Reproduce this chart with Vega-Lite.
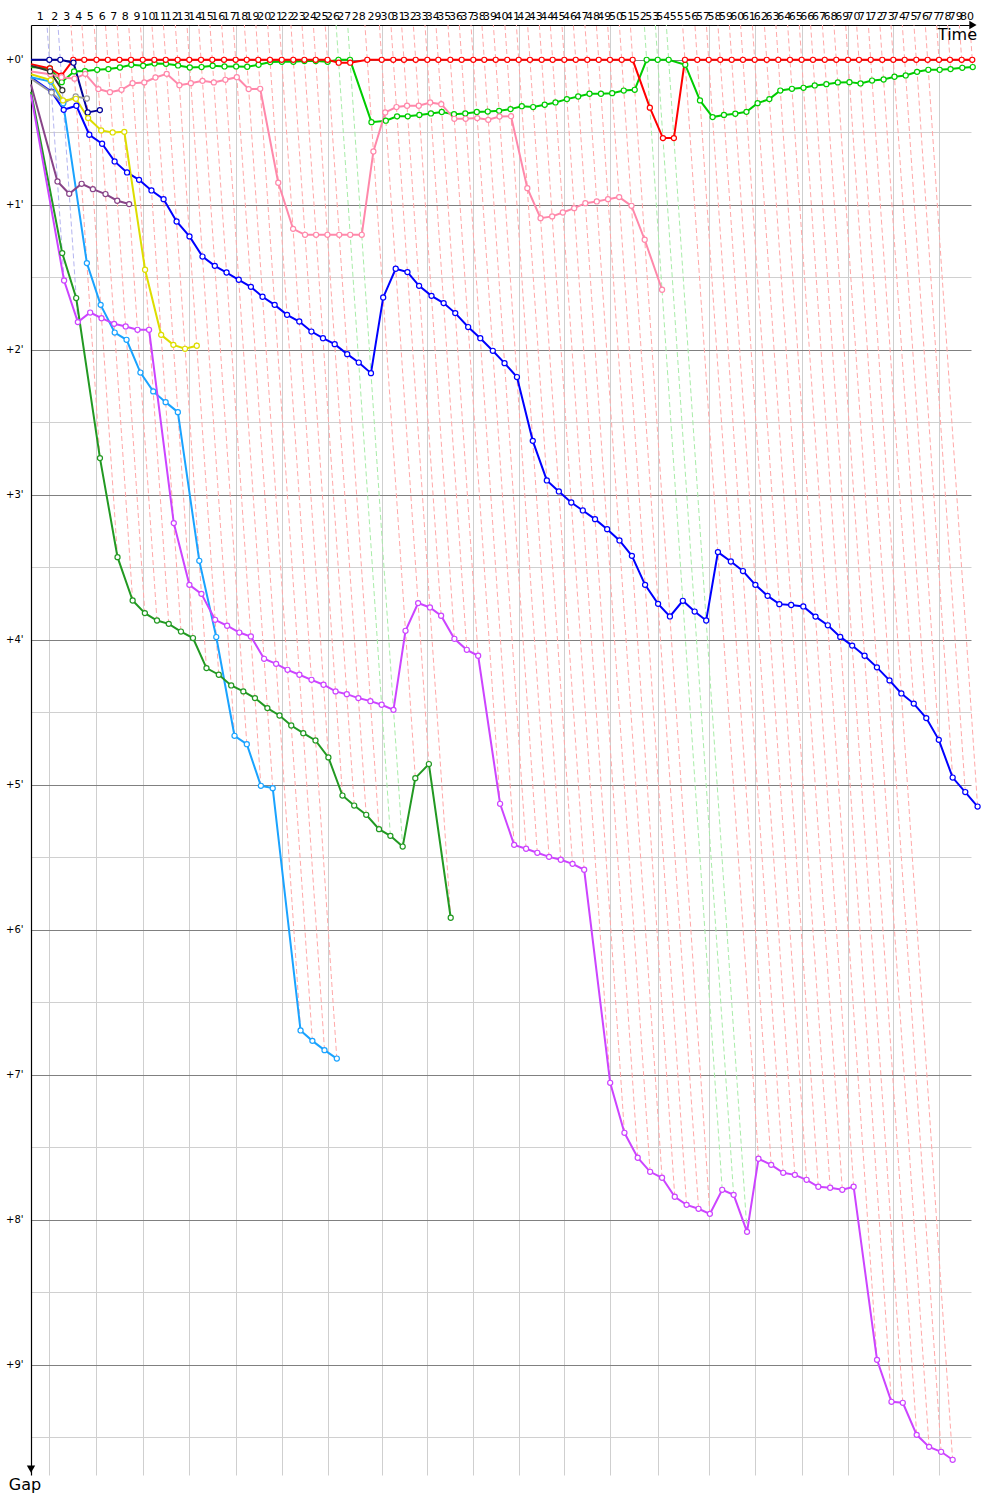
{
"$schema": "https://vega.github.io/schema/vega-lite/v6.json",
"width": 940, "height": 1450,
"autosize": {"type": "none"},
"padding": {"left": 31, "top": 25, "right": 29, "bottom": 25},
"background": "white",
"config": {"view": {"stroke": null}, "font": "DejaVu Sans"},
"datasets": {
"laps": [
{"lap":1,"t":1.89,"tm":0.95,"lead":"navy","xs":1.65,"xe":3.41,"G":1.52},
{"lap":2,"t":3.02,"tm":2.46,"lead":"navy","xs":2.78,"xe":4.83,"G":1.81},
{"lap":3,"t":4.36,"tm":3.69,"lead":"red","xs":4.12,"xe":7.11,"G":2.75},
{"lap":4,"t":5.49,"tm":4.93,"lead":"red","xs":5.25,"xe":8.92,"G":3.43},
{"lap":5,"t":6.75,"tm":6.12,"lead":"red","xs":6.51,"xe":10.48,"G":3.73},
{"lap":6,"t":7.92,"tm":7.34,"lead":"red","xs":7.68,"xe":11.74,"G":3.82},
{"lap":7,"t":9.12,"tm":8.52,"lead":"red","xs":8.88,"xe":12.99,"G":3.87},
{"lap":8,"t":10.31,"tm":9.72,"lead":"red","xs":10.07,"xe":14.2,"G":3.89},
{"lap":9,"t":11.52,"tm":10.92,"lead":"red","xs":11.28,"xe":15.46,"G":3.94},
{"lap":10,"t":12.71,"tm":12.12,"lead":"red","xs":12.47,"xe":16.7,"G":3.99},
{"lap":11,"t":13.89,"tm":13.3,"lead":"red","xs":13.65,"xe":18.09,"G":4.2},
{"lap":12,"t":15.12,"tm":14.51,"lead":"red","xs":14.88,"xe":19.36,"G":4.24},
{"lap":13,"t":16.32,"tm":15.72,"lead":"red","xs":16.08,"xe":20.98,"G":4.66},
{"lap":14,"t":17.53,"tm":16.93,"lead":"red","xs":17.29,"xe":22.25,"G":4.72},
{"lap":15,"t":18.69,"tm":18.11,"lead":"red","xs":18.45,"xe":23.7,"G":5.01},
{"lap":16,"t":19.9,"tm":19.3,"lead":"red","xs":19.66,"xe":24.92,"G":5.02},
{"lap":17,"t":21.1,"tm":20.5,"lead":"red","xs":20.86,"xe":27.79,"G":6.69},
{"lap":18,"t":22.24,"tm":21.67,"lead":"red","xs":22.0,"xe":29.01,"G":6.77},
{"lap":19,"t":23.43,"tm":22.84,"lead":"red","xs":23.19,"xe":30.26,"G":6.83},
{"lap":20,"t":24.64,"tm":24.04,"lead":"red","xs":24.4,"xe":31.53,"G":6.89},
{"lap":21,"t":25.85,"tm":25.25,"lead":"red","xs":25.61,"xe":30.66,"G":4.81},
{"lap":22,"t":27.04,"tm":26.45,"lead":"red","xs":26.8,"xe":32.11,"G":5.07},
{"lap":23,"t":28.18,"tm":27.61,"lead":"red","xs":27.94,"xe":33.32,"G":5.14},
{"lap":24,"t":29.35,"tm":28.77,"lead":"red","xs":29.11,"xe":34.56,"G":5.21},
{"lap":25,"t":30.57,"tm":29.96,"lead":"red","xs":30.33,"xe":35.88,"G":5.31},
{"lap":26,"t":31.7,"tm":31.14,"lead":"green","xs":31.46,"xe":37.05,"G":5.35},
{"lap":27,"t":32.89,"tm":32.3,"lead":"green","xs":32.65,"xe":38.32,"G":5.43},
{"lap":28,"t":34.67,"tm":33.78,"lead":"red","xs":34.43,"xe":39.62,"G":4.95},
{"lap":29,"t":36.16,"tm":35.42,"lead":"red","xs":35.92,"xe":41.02,"G":4.86},
{"lap":30,"t":37.35,"tm":36.76,"lead":"red","xs":37.11,"xe":43.27,"G":5.92},
{"lap":31,"t":38.45,"tm":37.9,"lead":"red","xs":38.21,"xe":42.28,"G":3.83},
{"lap":32,"t":39.66,"tm":39.06,"lead":"red","xs":39.42,"xe":43.65,"G":3.99},
{"lap":33,"t":40.86,"tm":40.26,"lead":"red","xs":40.62,"xe":44.93,"G":4.07},
{"lap":34,"t":41.99,"tm":41.43,"lead":"red","xs":41.75,"xe":46.1,"G":4.11},
{"lap":35,"t":43.23,"tm":42.61,"lead":"red","xs":42.99,"xe":48.36,"G":5.13},
{"lap":36,"t":44.4,"tm":43.82,"lead":"red","xs":44.16,"xe":49.81,"G":5.41},
{"lap":37,"t":45.6,"tm":45.0,"lead":"red","xs":45.36,"xe":51.04,"G":5.44},
{"lap":38,"t":46.73,"tm":46.17,"lead":"red","xs":46.49,"xe":52.2,"G":5.47},
{"lap":39,"t":47.91,"tm":47.32,"lead":"red","xs":47.67,"xe":53.41,"G":5.5},
{"lap":40,"t":49.1,"tm":48.51,"lead":"red","xs":48.86,"xe":54.62,"G":5.52},
{"lap":41,"t":50.28,"tm":49.69,"lead":"red","xs":50.04,"xe":55.83,"G":5.55},
{"lap":42,"t":51.44,"tm":50.86,"lead":"red","xs":51.2,"xe":57.03,"G":5.59},
{"lap":43,"t":52.65,"tm":52.05,"lead":"red","xs":52.41,"xe":59.71,"G":7.06},
{"lap":44,"t":53.78,"tm":53.22,"lead":"red","xs":53.54,"xe":61.18,"G":7.4},
{"lap":45,"t":54.98,"tm":54.38,"lead":"red","xs":54.74,"xe":62.55,"G":7.57},
{"lap":46,"t":56.16,"tm":55.57,"lead":"red","xs":55.92,"xe":63.83,"G":7.67},
{"lap":47,"t":57.35,"tm":56.76,"lead":"red","xs":57.11,"xe":65.06,"G":7.71},
{"lap":48,"t":58.53,"tm":57.94,"lead":"red","xs":58.29,"xe":66.37,"G":7.84},
{"lap":49,"t":59.69,"tm":59.11,"lead":"red","xs":59.45,"xe":67.59,"G":7.9},
{"lap":50,"t":60.9,"tm":60.3,"lead":"red","xs":60.66,"xe":68.82,"G":7.92},
{"lap":51,"t":62.03,"tm":61.47,"lead":"red","xs":61.79,"xe":69.99,"G":7.96},
{"lap":52,"t":63.47,"tm":62.75,"lead":"green","xs":63.23,"xe":71.26,"G":7.79},
{"lap":53,"t":64.61,"tm":64.04,"lead":"green","xs":64.37,"xe":72.44,"G":7.83},
{"lap":54,"t":65.74,"tm":65.18,"lead":"green","xs":65.5,"xe":73.82,"G":8.08},
{"lap":55,"t":67.42,"tm":66.58,"lead":"red","xs":67.18,"xe":75.0,"G":7.58},
{"lap":56,"t":68.69,"tm":68.06,"lead":"red","xs":68.45,"xe":76.31,"G":7.62},
{"lap":57,"t":69.87,"tm":69.28,"lead":"red","xs":69.63,"xe":77.55,"G":7.68},
{"lap":58,"t":71.06,"tm":70.47,"lead":"red","xs":70.82,"xe":78.75,"G":7.69},
{"lap":59,"t":72.24,"tm":71.65,"lead":"red","xs":72.0,"xe":79.96,"G":7.72},
{"lap":60,"t":73.4,"tm":72.82,"lead":"red","xs":73.16,"xe":81.17,"G":7.77},
{"lap":61,"t":74.61,"tm":74.01,"lead":"red","xs":74.37,"xe":82.39,"G":7.78},
{"lap":62,"t":75.85,"tm":75.23,"lead":"red","xs":75.61,"xe":83.64,"G":7.79},
{"lap":63,"t":77.04,"tm":76.45,"lead":"red","xs":76.8,"xe":84.81,"G":7.77},
{"lap":64,"t":78.25,"tm":77.65,"lead":"red","xs":78.01,"xe":87.22,"G":8.97},
{"lap":65,"t":79.45,"tm":78.85,"lead":"red","xs":79.21,"xe":88.71,"G":9.26},
{"lap":66,"t":80.62,"tm":80.04,"lead":"red","xs":80.38,"xe":89.88,"G":9.26},
{"lap":67,"t":81.83,"tm":81.23,"lead":"red","xs":81.59,"xe":91.31,"G":9.48},
{"lap":68,"t":83.02,"tm":82.43,"lead":"red","xs":82.78,"xe":92.59,"G":9.57},
{"lap":69,"t":84.23,"tm":83.63,"lead":"red","xs":83.99,"xe":93.83,"G":9.6},
{"lap":70,"t":85.36,"tm":84.8,"lead":"red","xs":85.12,"xe":95.02,"G":9.66},
{"lap":71,"t":86.57,"tm":85.97,"lead":"red","xs":86.33,"xe":91.01,"G":4.44},
{"lap":72,"t":87.76,"tm":87.17,"lead":"red","xs":87.52,"xe":92.3,"G":4.54},
{"lap":73,"t":88.9,"tm":88.33,"lead":"red","xs":88.66,"xe":93.59,"G":4.69},
{"lap":74,"t":90.07,"tm":89.49,"lead":"red","xs":89.83,"xe":95.02,"G":4.95},
{"lap":75,"t":91.27,"tm":90.67,"lead":"red","xs":91.03,"xe":96.32,"G":5.05},
{"lap":76,"t":92.44,"tm":91.86,"lead":"red","xs":92.2,"xe":97.59,"G":5.15},
{"lap":77,"t":93.61,"tm":93.03,"lead":"red","xs":93.37,"xe":93.68,"G":0.07},
{"lap":78,"t":94.74,"tm":94.18,"lead":"red","xs":94.5,"xe":94.8,"G":0.06},
{"lap":79,"t":95.95,"tm":95.35,"lead":"red","xs":95.71,"xe":96.01,"G":0.06},
{"lap":80,"t":97.04,"tm":96.5,"lead":"red","xs":96.8,"xe":97.09,"G":0.05}
],
"cars": [
{"c":"green","n":0,"t":0,"g":0.05},{"c":"green","n":1,"t":1.95,"g":0.06},{"c":"green","n":2,"t":3.17,"g":0.154},{"c":"green","n":3,"t":4.44,"g":0.08},{"c":"green","n":4,"t":5.57,"g":0.078},{"c":"green","n":5,"t":6.82,"g":0.069},{"c":"green","n":6,"t":7.98,"g":0.064},{"c":"green","n":7,"t":9.17,"g":0.053},{"c":"green","n":8,"t":10.34,"g":0.034},{"c":"green","n":9,"t":11.56,"g":0.041},{"c":"green","n":10,"t":12.74,"g":0.025},{"c":"green","n":11,"t":13.92,"g":0.028},{"c":"green","n":12,"t":15.16,"g":0.039},{"c":"green","n":13,"t":16.37,"g":0.053},{"c":"green","n":14,"t":17.58,"g":0.05},{"c":"green","n":15,"t":18.73,"g":0.041},{"c":"green","n":16,"t":19.95,"g":0.046},{"c":"green","n":17,"t":21.15,"g":0.046},{"c":"green","n":18,"t":22.29,"g":0.048},{"c":"green","n":19,"t":23.46,"g":0.034},{"c":"green","n":20,"t":24.66,"g":0.016},{"c":"green","n":21,"t":25.86,"g":0.014},{"c":"green","n":22,"t":27.05,"g":0.014},{"c":"green","n":23,"t":28.19,"g":0.009},{"c":"green","n":24,"t":29.36,"g":0.009},{"c":"green","n":25,"t":30.58,"g":0.014},{"c":"green","n":26,"t":31.7,"g":0},{"c":"green","n":27,"t":32.89,"g":0},{"c":"green","n":28,"t":35.1,"g":0.43},{"c":"green","n":29,"t":36.58,"g":0.42},{"c":"green","n":30,"t":37.74,"g":0.39},{"c":"green","n":31,"t":38.84,"g":0.39},{"c":"green","n":32,"t":40.04,"g":0.38},{"c":"green","n":33,"t":41.23,"g":0.37},{"c":"green","n":34,"t":42.35,"g":0.36},{"c":"green","n":35,"t":43.61,"g":0.375},{"c":"green","n":36,"t":44.77,"g":0.37},{"c":"green","n":37,"t":45.96,"g":0.36},{"c":"green","n":38,"t":47.09,"g":0.357},{"c":"green","n":39,"t":48.26,"g":0.352},{"c":"green","n":40,"t":49.44,"g":0.34},{"c":"green","n":41,"t":50.6,"g":0.32},{"c":"green","n":42,"t":51.77,"g":0.326},{"c":"green","n":43,"t":52.96,"g":0.31},{"c":"green","n":44,"t":54.07,"g":0.294},{"c":"green","n":45,"t":55.25,"g":0.271},{"c":"green","n":46,"t":56.41,"g":0.253},{"c":"green","n":47,"t":57.58,"g":0.234},{"c":"green","n":48,"t":58.76,"g":0.234},{"c":"green","n":49,"t":59.92,"g":0.23},{"c":"green","n":50,"t":61.11,"g":0.212},{"c":"green","n":51,"t":62.24,"g":0.207},{"c":"green","n":52,"t":63.47,"g":0},{"c":"green","n":53,"t":64.61,"g":0},{"c":"green","n":54,"t":65.74,"g":0},{"c":"green","n":55,"t":67.45,"g":0.034},{"c":"green","n":56,"t":68.97,"g":0.28},{"c":"green","n":57,"t":70.27,"g":0.395},{"c":"green","n":58,"t":71.44,"g":0.38},{"c":"green","n":59,"t":72.61,"g":0.372},{"c":"green","n":60,"t":73.76,"g":0.359},{"c":"green","n":61,"t":74.91,"g":0.299},{"c":"green","n":62,"t":76.12,"g":0.271},{"c":"green","n":63,"t":77.25,"g":0.212},{"c":"green","n":64,"t":78.45,"g":0.2},{"c":"green","n":65,"t":79.64,"g":0.193},{"c":"green","n":66,"t":80.8,"g":0.177},{"c":"green","n":67,"t":82.0,"g":0.168},{"c":"green","n":68,"t":83.18,"g":0.156},{"c":"green","n":69,"t":84.38,"g":0.154},{"c":"green","n":70,"t":85.52,"g":0.163},{"c":"green","n":71,"t":86.71,"g":0.143},{"c":"green","n":72,"t":87.9,"g":0.136},{"c":"green","n":73,"t":89.02,"g":0.117},{"c":"green","n":74,"t":90.18,"g":0.108},{"c":"green","n":75,"t":91.35,"g":0.083},{"c":"green","n":76,"t":92.51,"g":0.069},{"c":"green","n":77,"t":93.68,"g":0.069},{"c":"green","n":78,"t":94.8,"g":0.064},{"c":"green","n":79,"t":96.01,"g":0.055},{"c":"green","n":80,"t":97.09,"g":0.05},
{"c":"red","n":0,"t":0,"g":0.03},{"c":"red","n":1,"t":1.95,"g":0.06},{"c":"red","n":2,"t":3.13,"g":0.11},{"c":"red","n":3,"t":4.36,"g":0},{"c":"red","n":4,"t":5.49,"g":0},{"c":"red","n":5,"t":6.75,"g":0},{"c":"red","n":6,"t":7.92,"g":0},{"c":"red","n":7,"t":9.12,"g":0},{"c":"red","n":8,"t":10.31,"g":0},{"c":"red","n":9,"t":11.52,"g":0},{"c":"red","n":10,"t":12.71,"g":0},{"c":"red","n":11,"t":13.89,"g":0},{"c":"red","n":12,"t":15.12,"g":0},{"c":"red","n":13,"t":16.32,"g":0},{"c":"red","n":14,"t":17.53,"g":0},{"c":"red","n":15,"t":18.69,"g":0},{"c":"red","n":16,"t":19.9,"g":0},{"c":"red","n":17,"t":21.1,"g":0},{"c":"red","n":18,"t":22.24,"g":0},{"c":"red","n":19,"t":23.43,"g":0},{"c":"red","n":20,"t":24.64,"g":0},{"c":"red","n":21,"t":25.85,"g":0},{"c":"red","n":22,"t":27.04,"g":0},{"c":"red","n":23,"t":28.18,"g":0},{"c":"red","n":24,"t":29.35,"g":0},{"c":"red","n":25,"t":30.57,"g":0},{"c":"red","n":26,"t":31.72,"g":0.02},{"c":"red","n":27,"t":32.91,"g":0.02},{"c":"red","n":28,"t":34.67,"g":0},{"c":"red","n":29,"t":36.16,"g":0},{"c":"red","n":30,"t":37.35,"g":0},{"c":"red","n":31,"t":38.45,"g":0},{"c":"red","n":32,"t":39.66,"g":0},{"c":"red","n":33,"t":40.86,"g":0},{"c":"red","n":34,"t":41.99,"g":0},{"c":"red","n":35,"t":43.23,"g":0},{"c":"red","n":36,"t":44.4,"g":0},{"c":"red","n":37,"t":45.6,"g":0},{"c":"red","n":38,"t":46.73,"g":0},{"c":"red","n":39,"t":47.91,"g":0},{"c":"red","n":40,"t":49.1,"g":0},{"c":"red","n":41,"t":50.28,"g":0},{"c":"red","n":42,"t":51.44,"g":0},{"c":"red","n":43,"t":52.65,"g":0},{"c":"red","n":44,"t":53.78,"g":0},{"c":"red","n":45,"t":54.98,"g":0},{"c":"red","n":46,"t":56.16,"g":0},{"c":"red","n":47,"t":57.35,"g":0},{"c":"red","n":48,"t":58.53,"g":0},{"c":"red","n":49,"t":59.69,"g":0},{"c":"red","n":50,"t":60.9,"g":0},{"c":"red","n":51,"t":62.03,"g":0},{"c":"red","n":52,"t":63.8,"g":0.33},{"c":"red","n":53,"t":65.15,"g":0.54},{"c":"red","n":54,"t":66.28,"g":0.54},{"c":"red","n":55,"t":67.42,"g":0},{"c":"red","n":56,"t":68.69,"g":0},{"c":"red","n":57,"t":69.87,"g":0},{"c":"red","n":58,"t":71.06,"g":0},{"c":"red","n":59,"t":72.24,"g":0},{"c":"red","n":60,"t":73.4,"g":0},{"c":"red","n":61,"t":74.61,"g":0},{"c":"red","n":62,"t":75.85,"g":0},{"c":"red","n":63,"t":77.04,"g":0},{"c":"red","n":64,"t":78.25,"g":0},{"c":"red","n":65,"t":79.45,"g":0},{"c":"red","n":66,"t":80.62,"g":0},{"c":"red","n":67,"t":81.83,"g":0},{"c":"red","n":68,"t":83.02,"g":0},{"c":"red","n":69,"t":84.23,"g":0},{"c":"red","n":70,"t":85.36,"g":0},{"c":"red","n":71,"t":86.57,"g":0},{"c":"red","n":72,"t":87.76,"g":0},{"c":"red","n":73,"t":88.9,"g":0},{"c":"red","n":74,"t":90.07,"g":0},{"c":"red","n":75,"t":91.27,"g":0},{"c":"red","n":76,"t":92.44,"g":0},{"c":"red","n":77,"t":93.61,"g":0},{"c":"red","n":78,"t":94.74,"g":0},{"c":"red","n":79,"t":95.95,"g":0},{"c":"red","n":80,"t":97.04,"g":0},
{"c":"pink","n":0,"t":0,"g":0.08},{"c":"pink","n":1,"t":1.99,"g":0.1},{"c":"pink","n":2,"t":3.14,"g":0.12},{"c":"pink","n":3,"t":4.49,"g":0.13},{"c":"pink","n":4,"t":5.59,"g":0.097},{"c":"pink","n":5,"t":6.95,"g":0.202},{"c":"pink","n":6,"t":8.14,"g":0.223},{"c":"pink","n":7,"t":9.33,"g":0.207},{"c":"pink","n":8,"t":10.47,"g":0.161},{"c":"pink","n":9,"t":11.68,"g":0.156},{"c":"pink","n":10,"t":12.83,"g":0.122},{"c":"pink","n":11,"t":13.99,"g":0.097},{"c":"pink","n":12,"t":15.3,"g":0.175},{"c":"pink","n":13,"t":16.48,"g":0.161},{"c":"pink","n":14,"t":17.68,"g":0.145},{"c":"pink","n":15,"t":18.85,"g":0.156},{"c":"pink","n":16,"t":20.04,"g":0.138},{"c":"pink","n":17,"t":21.22,"g":0.12},{"c":"pink","n":18,"t":22.44,"g":0.202},{"c":"pink","n":19,"t":23.63,"g":0.2},{"c":"pink","n":20,"t":25.49,"g":0.848},{"c":"pink","n":21,"t":27.02,"g":1.166},{"c":"pink","n":22,"t":28.25,"g":1.207},{"c":"pink","n":23,"t":29.39,"g":1.207},{"c":"pink","n":24,"t":30.56,"g":1.207},{"c":"pink","n":25,"t":31.78,"g":1.207},{"c":"pink","n":26,"t":32.91,"g":1.207},{"c":"pink","n":27,"t":34.1,"g":1.207},{"c":"pink","n":28,"t":35.3,"g":0.632},{"c":"pink","n":29,"t":36.52,"g":0.363},{"c":"pink","n":30,"t":37.68,"g":0.326},{"c":"pink","n":31,"t":38.77,"g":0.317},{"c":"pink","n":32,"t":39.98,"g":0.317},{"c":"pink","n":33,"t":41.15,"g":0.294},{"c":"pink","n":34,"t":42.3,"g":0.306},{"c":"pink","n":35,"t":43.64,"g":0.407},{"c":"pink","n":36,"t":44.81,"g":0.407},{"c":"pink","n":37,"t":46.0,"g":0.402},{"c":"pink","n":38,"t":47.14,"g":0.414},{"c":"pink","n":39,"t":48.3,"g":0.391},{"c":"pink","n":40,"t":49.49,"g":0.389},{"c":"pink","n":41,"t":51.17,"g":0.885},{"c":"pink","n":42,"t":52.53,"g":1.092},{"c":"pink","n":43,"t":53.73,"g":1.08},{"c":"pink","n":44,"t":54.83,"g":1.053},{"c":"pink","n":45,"t":56.0,"g":1.023},{"c":"pink","n":46,"t":57.15,"g":0.989},{"c":"pink","n":47,"t":58.33,"g":0.977},{"c":"pink","n":48,"t":59.49,"g":0.961},{"c":"pink","n":49,"t":60.64,"g":0.947},{"c":"pink","n":50,"t":61.91,"g":1.007},{"c":"pink","n":51,"t":63.27,"g":1.241},{"c":"pink","n":52,"t":65.06,"g":1.586},
{"c":"blue","n":0,"t":0,"g":0.12},{"c":"blue","n":1,"t":2.11,"g":0.22},{"c":"blue","n":2,"t":3.37,"g":0.345},{"c":"blue","n":3,"t":4.68,"g":0.317},{"c":"blue","n":4,"t":6.01,"g":0.517},{"c":"blue","n":5,"t":7.33,"g":0.579},{"c":"blue","n":6,"t":8.62,"g":0.701},{"c":"blue","n":7,"t":9.9,"g":0.777},{"c":"blue","n":8,"t":11.14,"g":0.828},{"c":"blue","n":9,"t":12.42,"g":0.901},{"c":"blue","n":10,"t":13.67,"g":0.961},{"c":"blue","n":11,"t":15.01,"g":1.115},{"c":"blue","n":12,"t":16.34,"g":1.218},{"c":"blue","n":13,"t":17.68,"g":1.357},{"c":"blue","n":14,"t":18.95,"g":1.421},{"c":"blue","n":15,"t":20.16,"g":1.467},{"c":"blue","n":16,"t":21.42,"g":1.517},{"c":"blue","n":17,"t":22.67,"g":1.566},{"c":"blue","n":18,"t":23.87,"g":1.634},{"c":"blue","n":19,"t":25.12,"g":1.69},{"c":"blue","n":20,"t":26.4,"g":1.759},{"c":"blue","n":21,"t":27.66,"g":1.805},{"c":"blue","n":22,"t":28.91,"g":1.874},{"c":"blue","n":23,"t":30.1,"g":1.92},{"c":"blue","n":24,"t":31.31,"g":1.961},{"c":"blue","n":25,"t":32.6,"g":2.03},{"c":"blue","n":26,"t":33.79,"g":2.088},{"c":"blue","n":27,"t":35.05,"g":2.161},{"c":"blue","n":28,"t":36.31,"g":1.639},{"c":"blue","n":29,"t":37.6,"g":1.441},{"c":"blue","n":30,"t":38.81,"g":1.464},{"c":"blue","n":31,"t":40.01,"g":1.559},{"c":"blue","n":32,"t":41.29,"g":1.628},{"c":"blue","n":33,"t":42.54,"g":1.678},{"c":"blue","n":34,"t":43.74,"g":1.747},{"c":"blue","n":35,"t":45.07,"g":1.843},{"c":"blue","n":36,"t":46.32,"g":1.92},{"c":"blue","n":37,"t":47.61,"g":2.007},{"c":"blue","n":38,"t":48.82,"g":2.092},{"c":"blue","n":39,"t":50.1,"g":2.188},{"c":"blue","n":40,"t":51.73,"g":2.628},{"c":"blue","n":41,"t":53.18,"g":2.901},{"c":"blue","n":42,"t":54.42,"g":2.977},{"c":"blue","n":43,"t":55.7,"g":3.053},{"c":"blue","n":44,"t":56.89,"g":3.108},{"c":"blue","n":45,"t":58.15,"g":3.168},{"c":"blue","n":46,"t":59.4,"g":3.237},{"c":"blue","n":47,"t":60.67,"g":3.315},{"c":"blue","n":48,"t":61.95,"g":3.421},{"c":"blue","n":49,"t":63.31,"g":3.621},{"c":"blue","n":50,"t":64.65,"g":3.752},{"c":"blue","n":51,"t":65.87,"g":3.839},{"c":"blue","n":52,"t":67.2,"g":3.731},{"c":"blue","n":53,"t":68.42,"g":3.805},{"c":"blue","n":54,"t":69.61,"g":3.867},{"c":"blue","n":55,"t":70.82,"g":3.395},{"c":"blue","n":56,"t":72.15,"g":3.46},{"c":"blue","n":57,"t":73.4,"g":3.526},{"c":"blue","n":58,"t":74.68,"g":3.621},{"c":"blue","n":59,"t":75.94,"g":3.697},{"c":"blue","n":60,"t":77.15,"g":3.754},{"c":"blue","n":61,"t":78.37,"g":3.76},{"c":"blue","n":62,"t":79.62,"g":3.77},{"c":"blue","n":63,"t":80.88,"g":3.84},{"c":"blue","n":64,"t":82.15,"g":3.9},{"c":"blue","n":65,"t":83.43,"g":3.98},{"c":"blue","n":66,"t":84.66,"g":4.04},{"c":"blue","n":67,"t":85.94,"g":4.11},{"c":"blue","n":68,"t":87.21,"g":4.19},{"c":"blue","n":69,"t":88.51,"g":4.28},{"c":"blue","n":70,"t":89.73,"g":4.37},{"c":"blue","n":71,"t":91.01,"g":4.44},{"c":"blue","n":72,"t":92.3,"g":4.54},{"c":"blue","n":73,"t":93.59,"g":4.69},{"c":"blue","n":74,"t":95.02,"g":4.95},{"c":"blue","n":75,"t":96.32,"g":5.05},{"c":"blue","n":76,"t":97.59,"g":5.15},
{"c":"navy","n":0,"t":0,"g":0},{"c":"navy","n":1,"t":1.89,"g":0},{"c":"navy","n":2,"t":3.02,"g":0},{"c":"navy","n":3,"t":4.38,"g":0.02},{"c":"navy","n":4,"t":5.85,"g":0.363},{"c":"navy","n":5,"t":7.1,"g":0.347},
{"c":"black","n":0,"t":0,"g":0.04},{"c":"black","n":1,"t":1.97,"g":0.08},{"c":"black","n":2,"t":3.23,"g":0.21},
{"c":"gray","n":0,"t":0,"g":0.13},{"c":"gray","n":1,"t":2.12,"g":0.225},{"c":"gray","n":2,"t":3.32,"g":0.3},{"c":"gray","n":3,"t":4.61,"g":0.253},{"c":"gray","n":4,"t":5.76,"g":0.267},
{"c":"sky","n":0,"t":0,"g":0.12},{"c":"sky","n":1,"t":2.04,"g":0.15},{"c":"sky","n":2,"t":3.32,"g":0.3},{"c":"sky","n":3,"t":5.76,"g":1.402},{"c":"sky","n":4,"t":7.18,"g":1.69},{"c":"sky","n":5,"t":8.63,"g":1.881},{"c":"sky","n":6,"t":9.85,"g":1.931},{"c":"sky","n":7,"t":11.28,"g":2.157},{"c":"sky","n":8,"t":12.6,"g":2.287},{"c":"sky","n":9,"t":13.88,"g":2.361},{"c":"sky","n":10,"t":15.14,"g":2.43},{"c":"sky","n":11,"t":17.35,"g":3.455},{"c":"sky","n":12,"t":19.1,"g":3.981},{"c":"sky","n":13,"t":20.98,"g":4.662},{"c":"sky","n":14,"t":22.25,"g":4.72},{"c":"sky","n":15,"t":23.7,"g":5.007},{"c":"sky","n":16,"t":24.92,"g":5.023},{"c":"sky","n":17,"t":27.79,"g":6.694},{"c":"sky","n":18,"t":29.01,"g":6.766},{"c":"sky","n":19,"t":30.26,"g":6.83},{"c":"sky","n":20,"t":31.53,"g":6.888},
{"c":"yellow","n":0,"t":0,"g":0.1},{"c":"yellow","n":1,"t":2.03,"g":0.14},{"c":"yellow","n":2,"t":3.3,"g":0.28},{"c":"yellow","n":3,"t":4.63,"g":0.269},{"c":"yellow","n":4,"t":5.89,"g":0.402},{"c":"yellow","n":5,"t":7.24,"g":0.487},{"c":"yellow","n":6,"t":8.42,"g":0.501},{"c":"yellow","n":7,"t":9.62,"g":0.497},{"c":"yellow","n":8,"t":11.76,"g":1.448},{"c":"yellow","n":9,"t":13.42,"g":1.897},{"c":"yellow","n":10,"t":14.68,"g":1.966},{"c":"yellow","n":11,"t":15.88,"g":1.993},{"c":"yellow","n":12,"t":17.09,"g":1.972},
{"c":"dpurple","n":0,"t":0,"g":0.17},{"c":"dpurple","n":1,"t":2.73,"g":0.839},{"c":"dpurple","n":2,"t":3.94,"g":0.924},{"c":"dpurple","n":3,"t":5.22,"g":0.855},{"c":"dpurple","n":4,"t":6.38,"g":0.892},{"c":"dpurple","n":5,"t":7.68,"g":0.926},{"c":"dpurple","n":6,"t":8.89,"g":0.972},{"c":"dpurple","n":7,"t":10.12,"g":0.995},
{"c":"fgreen","n":0,"t":0,"g":0.22},{"c":"fgreen","n":1,"t":3.22,"g":1.333},{"c":"fgreen","n":2,"t":4.66,"g":1.643},{"c":"fgreen","n":3,"t":7.11,"g":2.747},{"c":"fgreen","n":4,"t":8.92,"g":3.43},{"c":"fgreen","n":5,"t":10.48,"g":3.729},{"c":"fgreen","n":6,"t":11.74,"g":3.816},{"c":"fgreen","n":7,"t":12.99,"g":3.867},{"c":"fgreen","n":8,"t":14.2,"g":3.89},{"c":"fgreen","n":9,"t":15.46,"g":3.943},{"c":"fgreen","n":10,"t":16.7,"g":3.988},{"c":"fgreen","n":11,"t":18.09,"g":4.195},{"c":"fgreen","n":12,"t":19.36,"g":4.241},{"c":"fgreen","n":13,"t":20.64,"g":4.315},{"c":"fgreen","n":14,"t":21.89,"g":4.356},{"c":"fgreen","n":15,"t":23.09,"g":4.402},{"c":"fgreen","n":16,"t":24.37,"g":4.471},{"c":"fgreen","n":17,"t":25.62,"g":4.522},{"c":"fgreen","n":18,"t":26.83,"g":4.591},{"c":"fgreen","n":19,"t":28.07,"g":4.644},{"c":"fgreen","n":20,"t":29.33,"g":4.694},{"c":"fgreen","n":21,"t":30.66,"g":4.811},{"c":"fgreen","n":22,"t":32.11,"g":5.074},{"c":"fgreen","n":23,"t":33.32,"g":5.143},{"c":"fgreen","n":24,"t":34.56,"g":5.207},{"c":"fgreen","n":25,"t":35.88,"g":5.306},{"c":"fgreen","n":26,"t":37.05,"g":5.352},{"c":"fgreen","n":27,"t":38.32,"g":5.426},{"c":"fgreen","n":28,"t":39.62,"g":4.954},{"c":"fgreen","n":29,"t":41.02,"g":4.857},{"c":"fgreen","n":30,"t":43.27,"g":5.917},
{"c":"purple","n":0,"t":0,"g":0.24},{"c":"purple","n":1,"t":3.41,"g":1.522},{"c":"purple","n":2,"t":4.83,"g":1.809},{"c":"purple","n":3,"t":6.1,"g":1.743},{"c":"purple","n":4,"t":7.27,"g":1.782},{"c":"purple","n":5,"t":8.57,"g":1.821},{"c":"purple","n":6,"t":9.76,"g":1.839},{"c":"purple","n":7,"t":10.98,"g":1.862},{"c":"purple","n":8,"t":12.17,"g":1.862},{"c":"purple","n":9,"t":14.72,"g":3.195},{"c":"purple","n":10,"t":16.33,"g":3.621},{"c":"purple","n":11,"t":17.57,"g":3.683},{"c":"purple","n":12,"t":18.98,"g":3.862},{"c":"purple","n":13,"t":20.22,"g":3.903},{"c":"purple","n":14,"t":21.48,"g":3.95},{"c":"purple","n":15,"t":22.67,"g":3.977},{"c":"purple","n":16,"t":24.03,"g":4.131},{"c":"purple","n":17,"t":25.27,"g":4.166},{"c":"purple","n":18,"t":26.45,"g":4.207},{"c":"purple","n":19,"t":27.67,"g":4.241},{"c":"purple","n":20,"t":28.92,"g":4.276},{"c":"purple","n":21,"t":30.16,"g":4.31},{"c":"purple","n":22,"t":31.4,"g":4.356},{"c":"purple","n":23,"t":32.56,"g":4.375},{"c":"purple","n":24,"t":33.75,"g":4.402},{"c":"purple","n":25,"t":34.99,"g":4.423},{"c":"purple","n":26,"t":36.15,"g":4.448},{"c":"purple","n":27,"t":37.37,"g":4.483},{"c":"purple","n":28,"t":38.61,"g":3.938},{"c":"purple","n":29,"t":39.91,"g":3.747},{"c":"purple","n":30,"t":41.13,"g":3.777},{"c":"purple","n":31,"t":42.28,"g":3.834},{"c":"purple","n":32,"t":43.65,"g":3.993},{"c":"purple","n":33,"t":44.93,"g":4.069},{"c":"purple","n":34,"t":46.1,"g":4.11},{"c":"purple","n":35,"t":48.36,"g":5.131},{"c":"purple","n":36,"t":49.81,"g":5.414},{"c":"purple","n":37,"t":51.04,"g":5.441},{"c":"purple","n":38,"t":52.2,"g":5.469},{"c":"purple","n":39,"t":53.41,"g":5.497},{"c":"purple","n":40,"t":54.62,"g":5.517},{"c":"purple","n":41,"t":55.83,"g":5.545},{"c":"purple","n":42,"t":57.03,"g":5.586},{"c":"purple","n":43,"t":59.71,"g":7.055},{"c":"purple","n":44,"t":61.18,"g":7.4},{"c":"purple","n":45,"t":62.55,"g":7.572},{"c":"purple","n":46,"t":63.83,"g":7.669},{"c":"purple","n":47,"t":65.06,"g":7.71},{"c":"purple","n":48,"t":66.37,"g":7.841},{"c":"purple","n":49,"t":67.59,"g":7.897},{"c":"purple","n":50,"t":68.82,"g":7.924},{"c":"purple","n":51,"t":69.99,"g":7.959},{"c":"purple","n":52,"t":71.26,"g":7.793},{"c":"purple","n":53,"t":72.44,"g":7.828},{"c":"purple","n":54,"t":73.82,"g":8.083},{"c":"purple","n":55,"t":75.0,"g":7.579},{"c":"purple","n":56,"t":76.31,"g":7.621},{"c":"purple","n":57,"t":77.55,"g":7.676},{"c":"purple","n":58,"t":78.75,"g":7.69},{"c":"purple","n":59,"t":79.96,"g":7.724},{"c":"purple","n":60,"t":81.17,"g":7.772},{"c":"purple","n":61,"t":82.39,"g":7.779},{"c":"purple","n":62,"t":83.64,"g":7.793},{"c":"purple","n":63,"t":84.81,"g":7.772},{"c":"purple","n":64,"t":87.22,"g":8.966},{"c":"purple","n":65,"t":88.71,"g":9.255},{"c":"purple","n":66,"t":89.88,"g":9.262},{"c":"purple","n":67,"t":91.31,"g":9.483},{"c":"purple","n":68,"t":92.59,"g":9.566},{"c":"purple","n":69,"t":93.83,"g":9.6},{"c":"purple","n":70,"t":95.02,"g":9.655}
]
},
"layer": [
{
"data": {"name": "laps"},
"mark": {"type": "rule", "strokeDash": [5, 3], "strokeWidth": 1},
"encoding": {
"x": {"field": "xe", "type": "quantitative",
 "scale": {"domain": [0, 96.91], "nice": false, "zero": false},
 "axis": {"orient": "top", "title": null, "labels": false, "ticks": false, "domainColor": "#000000", "domainWidth": 1.2,
  "grid": true, "gridColor": "#cfcfcf", "gridWidth": 1,
  "values": [1.89,3.02,4.36,5.49,6.75,7.92,9.12,10.31,11.52,12.71,13.89,15.12,16.32,17.53,18.69,19.9,21.1,22.24,23.43,24.64,25.85,27.04,28.18,29.35,30.57,31.7,32.89,34.67,36.16,37.35,38.45,39.66,40.86,41.99,43.23,44.4,45.6,46.73,47.91,49.1,50.28,51.44,52.65,53.78,54.98,56.16,57.35,58.53,59.69,60.9,62.03,63.47,64.61,65.74,67.42,68.69,69.87,71.06,72.24,73.4,74.61,75.85,77.04,78.25,79.45,80.62,81.83,83.02,84.23,85.36,86.57,87.76,88.9,90.07,91.27,92.44,93.61,94.74,95.95]}},
"x2": {"field": "xs"},
"y": {"field": "G", "type": "quantitative",
 "scale": {"domain": [-0.24, 9.76], "nice": false, "zero": false, "reverse": true},
 "axis": {"orient": "left", "title": null, "ticks": false, "domainColor": "#000000", "domainWidth": 1.2,
  "values": [0,0.5,1,1.5,2,2.5,3,3.5,4,4.5,5,5.5,6,6.5,7,7.5,8,8.5,9,9.5],
  "labelExpr": "datum.value % 1 === 0 ? '+' + datum.value + \"'\" : ''",
  "labelFontSize": 10, "labelPadding": 8, "labelColor": "#000000", "labelOverlap": false,
  "grid": true, "gridWidth": 1,
  "gridColor": {"condition": {"test": "datum.value % 1 === 0", "value": "#808080"}, "value": "#d0d0d0"}}},
"y2": {"datum": -0.24},
"color": {"field": "lead", "type": "nominal", "legend": null,
 "scale": {"domain": ["navy", "red", "green"], "range": ["#b4b4f0", "#ffa8a8", "#a8eca8"]}}
}
},
{
"data": {"name": "cars"},
"mark": {"type": "line", "strokeWidth": 2},
"encoding": {
"x": {"field": "t", "type": "quantitative", "scale": {"domain": [0, 96.91], "nice": false, "zero": false}},
"y": {"field": "g", "type": "quantitative", "scale": {"domain": [-0.24, 9.76], "nice": false, "zero": false, "reverse": true}},
"stroke": {"field": "c", "type": "nominal", "legend": null,
 "scale": {"domain": ["red","green","pink","blue","navy","black","gray","sky","yellow","dpurple","fgreen","purple"],
  "range": ["#ff0000","#00cc00","#ff88aa","#0000ff","#000099","#333333","#999999","#1aa3ff","#dddd00","#884488","#229922","#cc44ff"]}}
}
},
{
"data": {"name": "cars"},
"transform": [{"filter": "datum.n > 0"}],
"mark": {"type": "point", "shape": "circle", "size": 26, "filled": true, "fill": "#ffffff", "strokeWidth": 1.2, "opacity": 1},
"encoding": {
"x": {"field": "t", "type": "quantitative", "scale": {"domain": [0, 96.91], "nice": false, "zero": false}},
"y": {"field": "g", "type": "quantitative", "scale": {"domain": [-0.24, 9.76], "nice": false, "zero": false, "reverse": true}},
"stroke": {"field": "c", "type": "nominal", "legend": null}
}
},
{
"data": {"name": "laps"},
"mark": {"type": "text", "fontSize": 11, "baseline": "bottom", "align": "center", "dy": -3, "color": "#000000"},
"encoding": {
"x": {"field": "tm", "type": "quantitative"},
"y": {"datum": -0.24, "type": "quantitative"},
"text": {"field": "lap", "type": "nominal"}
}
},
{
"data": {"values": [{"k": "Time", "x": 96.91, "y": -0.24}]},
"mark": {"type": "text", "fontSize": 16, "align": "right", "baseline": "top", "dy": 2, "dx": 6, "color": "#000000"},
"encoding": {"x": {"field": "x", "type": "quantitative"}, "y": {"field": "y", "type": "quantitative"}, "text": {"field": "k"}}
},
{
"data": {"values": [{"k": "Gap", "x": 0, "y": 9.76}]},
"mark": {"type": "text", "fontSize": 16, "align": "center", "baseline": "top", "dy": 2, "dx": -6, "color": "#000000"},
"encoding": {"x": {"field": "x", "type": "quantitative"}, "y": {"field": "y", "type": "quantitative"}, "text": {"field": "k"}}
},
{
"data": {"values": [{"x": 97.11, "y": -0.24}]},
"mark": {"type": "point", "shape": "triangle-right", "filled": true, "size": 70, "color": "#000000", "opacity": 1},
"encoding": {"x": {"field": "x", "type": "quantitative"}, "y": {"field": "y", "type": "quantitative"}}
},
{
"data": {"values": [{"x": 0, "y": 9.72}]},
"mark": {"type": "point", "shape": "triangle-down", "filled": true, "size": 70, "color": "#000000", "opacity": 1},
"encoding": {"x": {"field": "x", "type": "quantitative"}, "y": {"field": "y", "type": "quantitative"}}
}
]
}
